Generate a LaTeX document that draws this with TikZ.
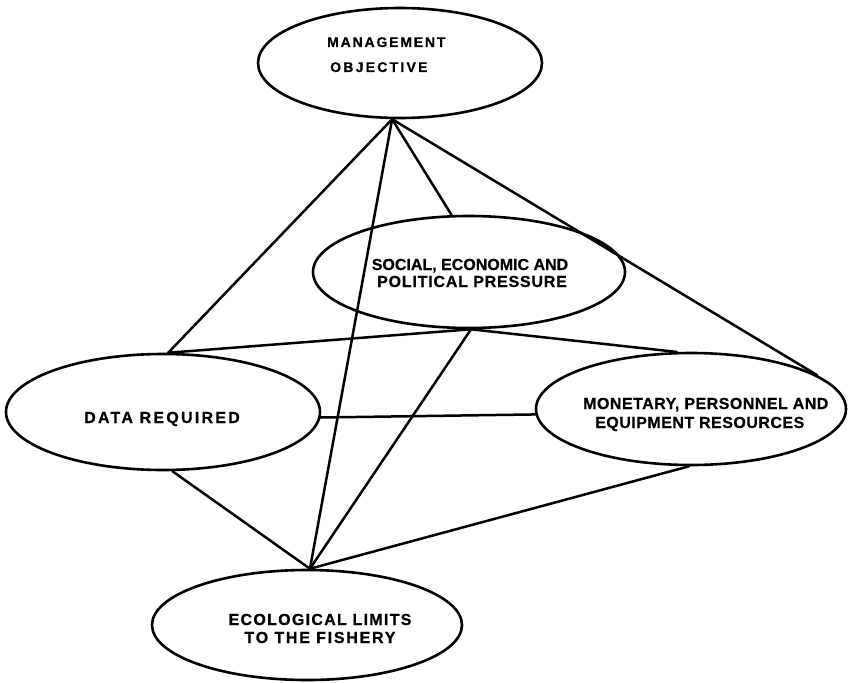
\documentclass[tikz,border=0pt]{standalone}
\usepackage{fontspec}
\setmainfont{Liberation Sans}[BoldFeatures={FakeBold=0.6}]
\usetikzlibrary{shapes.geometric}
\newcommand\lsp[2]{{\addfontfeature{LetterSpace=#1}#2}}
\begin{document}
\begin{tikzpicture}[x=1pt,y=-1pt,
  oval/.style={draw, ellipse, line width=2.6pt, inner sep=0pt},
  link/.style={line width=2.5pt, line cap=round},
  lbl/.style={font=\fontsize{16}{19}\selectfont\bfseries, inner sep=0pt},
  lblsmall/.style={font=\fontsize{14}{17}\selectfont\bfseries, inner sep=0pt}]
\useasboundingbox (0,0) rectangle (850,682);
% ellipses
\node[oval, minimum width=284pt, minimum height=110pt] (mo) at (400,63) {};
\node[oval, minimum width=312pt, minimum height=112pt] (soc) at (469,272) {};
\node[oval, minimum width=314pt, minimum height=116pt] (data) at (163,412) {};
\node[oval, minimum width=310pt, minimum height=112pt] (mon) at (691,409) {};
\node[oval, minimum width=310pt, minimum height=110pt] (eco) at (307,625) {};
% texts
\node[lblsmall, anchor=base west] (mot1) at (327,47) {\lsp{13}{MANAGEMENT}};
\node[lblsmall, anchor=base west] (mot2) at (330,72) {\lsp{16}{OBJECTIVE}};
\node[lbl, anchor=base] (soct1) at (470,270) {SOCIAL, ECONOMIC AND};
\node[lbl, anchor=base] (soct2) at (472,287) {\lsp{5}{POLITICAL PRESSURE}};
\node[lbl, anchor=base] (datat) at (162,423) {\lsp{14}{DATA REQUIRED}};
\node[lbl, anchor=base west] (mont1) at (583,409) {\lsp{3}{MONETARY, PERSONNEL AND}};
\node[lbl, anchor=base west] (mont2) at (595,428) {\lsp{3}{EQUIPMENT RESOURCES}};
\node[lbl, anchor=base] (ecot1) at (320,625) {\lsp{8}{ECOLOGICAL LIMITS}};
\node[lbl, anchor=base] (ecot2) at (320,643) {\lsp{11}{TO THE FISHERY}};
% connectors
\draw[link] (mo.-98) -- (data.85);
\draw[link] (mo.-98) -- (soc.107);
\draw[link] (mo.-98) -- (mon.15);
\draw[link] (mo.-98) -- (eco.87);
\draw[link] (soc.-88) -- (data.85);
\draw[link] (soc.-88) -- (mon.104);
\draw[link] (soc.-88) -- (eco.87);
\draw[link] (data.-2) -- (mon.182);
\draw[link] (data.-81) -- (eco.87);
\draw[link] (mon.-92) -- (eco.87);
\end{tikzpicture}
\end{document}
